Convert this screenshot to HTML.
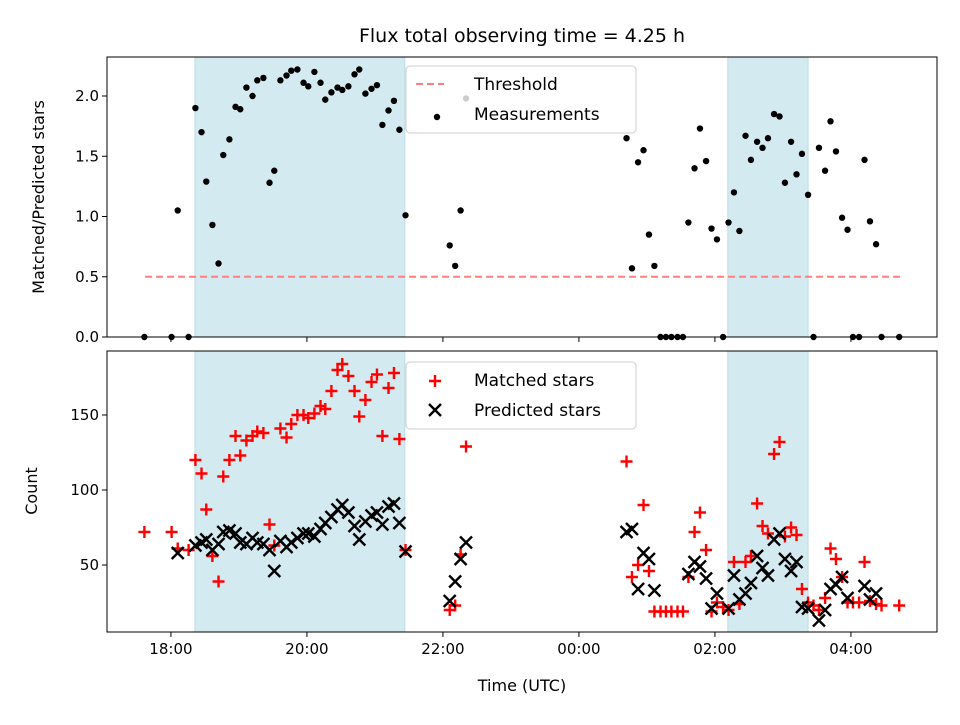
<!DOCTYPE html>
<html><head><meta charset="utf-8">
<style>
html,body{margin:0;padding:0;background:#fff;}
svg text{font-family:"DejaVu Sans","Liberation Sans",sans-serif;fill:#000;}
</style></head>
<body>
<svg id="chart" width="960" height="720" viewBox="0 0 960 720" xmlns="http://www.w3.org/2000/svg">
<text x="522" y="42" font-size="19" text-anchor="middle">Flux total observing time = 4.25 h</text>
<g id="topPanel"></g>
<g id="botPanel"></g>
<text x="522" y="691" font-size="16" text-anchor="middle">Time (UTC)</text>
<text transform="translate(44,197) rotate(-90)" font-size="16" text-anchor="middle">Matched/Predicted stars</text>
<text transform="translate(37,491) rotate(-90)" font-size="16" text-anchor="middle">Count</text>
</svg>
<script>
const times=[-0.39,0.01,0.10,0.26,0.36,0.45,0.52,0.61,0.70,0.77,0.86,0.95,1.02,1.11,1.20,1.27,1.36,1.45,1.52,1.61,1.70,1.77,1.86,1.95,2.02,2.11,2.20,2.27,2.36,2.45,2.52,2.61,2.70,2.77,2.86,2.95,3.03,3.11,3.20,3.28,3.36,3.45,4.10,4.18,4.26,4.34,
6.70,6.78,6.87,6.95,7.03,7.11,7.20,7.28,7.36,7.45,7.53,7.61,7.70,7.78,7.87,7.95,8.03,8.12,8.20,8.28,8.36,8.45,8.53,8.62,8.70,8.78,8.87,8.95,9.03,9.12,9.20,9.28,9.37,9.45,9.53,9.62,9.70,9.78,9.87,9.95,10.03,10.12,10.20,10.28,10.37,10.45,10.71];
const ratio=[0,0,1.05,0,1.90,1.70,1.29,0.93,0.61,1.51,1.64,1.91,1.89,2.07,2.00,2.13,2.15,1.28,1.38,2.13,2.17,2.21,2.22,2.11,2.08,2.20,2.11,1.97,2.03,2.07,2.05,2.08,2.18,2.22,2.02,2.06,2.09,1.76,1.88,1.96,1.72,1.01,0.76,0.59,1.05,1.98,
1.65,0.57,1.45,1.55,0.85,0.59,0,0,0,0,0,0.95,1.40,1.73,1.46,0.90,0.81,0,0.95,1.20,0.88,1.67,1.47,1.62,1.57,1.65,1.85,1.83,1.28,1.62,1.35,1.52,1.18,0,1.57,1.38,1.79,1.54,0.99,0.89,0,0,1.47,0.96,0.77,0,0];
const matched=[72,72,61,60,120,111,87,56,39,109,120,136,123,133,136,139,138,77,63,141,135,144,150,150,148,151,156,154,166,180,184,176,166,149,160,172,177,136,168,178,134,60,20,23,57,129,
119,42,50,90,46,19,19,19,19,19,19,42,72,85,60,19,25,22,20,52,24,52,56,91,76,71,124,132,69,75,70,34,25,23,20,28,61,54,42,25,25,25,52,26,24,23,23];
const predicted=[null,null,58,null,63,65,67,60,64,72,73,71,65,64,68,65,64,60,46,66,62,65,68,71,71,69,74,78,82,87,90,85,76,67,79,83,85,77,89,91,78,59,26,39,54,65,
72,74,34,58,54,33,null,null,null,null,null,44,52,49,41,21,31,null,21,43,27,31,38,56,48,43,67,71,54,46,52,22,21,null,13,20,34,37,42,28,null,null,36,27,31,null,null];
const xTickHours=[0,2,4,6,8,10];
const xTickLabels=["18:00","20:00","22:00","00:00","02:00","04:00"];
const topTicks=[0,0.5,1.0,1.5,2.0];
const botTicks=[50,100,150];
const spans=[[0.353,3.44],[8.19,9.37]];
const threshold=0.5, thrStart=-0.38, thrEnd=10.74;

const NS="http://www.w3.org/2000/svg";
const L=107,R=937;
const X=h=>L+(h+0.94)*68;
const YT=v=>337-v*120.5;
const YB=v=>640-v*1.5;
function mk(tag,attrs,parent){const e=document.createElementNS(NS,tag);for(const k in attrs)e.setAttribute(k,attrs[k]);parent.appendChild(e);return e;}
const topG=document.getElementById('topPanel'),botG=document.getElementById('botPanel');

function axes(g,y0,y1,ticks,Y,fmt,labelsX,pre){
  spans.forEach((s,i)=>{const r=mk('rect',{x:X(s[0]),y:y0,width:X(s[1])-X(s[0]),height:y1-y0,fill:'#d4eaf1',stroke:'#bcdde8','stroke-width':1},g);
    
    });
  ticks.forEach(t=>{const y=Y(t);mk('line',{x1:L-5,x2:L,y1:y,y2:y,stroke:'#000'},g);
    const tx=mk('text',{x:L-8,y:y+5,'font-size':15,'text-anchor':'end'},g);tx.textContent=fmt(t);
    
    });
  xTickHours.forEach((h,i)=>{const x=X(h);mk('line',{x1:x,x2:x,y1:y1,y2:y1+5,stroke:'#000'},g);
    if(labelsX){const tx=mk('text',{x:x,y:y1+22,'font-size':15,'text-anchor':'middle'},g);tx.textContent=xTickLabels[i];
    
    }});
}
function frame(g,y0,y1,pre){const f=mk('rect',{x:L,y:y0,width:R-L,height:y1-y0,fill:'none',stroke:'#000','stroke-width':1},g);
  
  }

// top panel
axes(topG,57,337,topTicks,YT,t=>t.toFixed(1),false,'top');
const thr=mk('line',{x1:X(thrStart),x2:X(thrEnd),y1:YT(threshold),y2:YT(threshold),stroke:'#ff7f7f','stroke-width':2,'stroke-dasharray':'7,4'},topG);


times.forEach((t,i)=>{const c=mk('circle',{cx:X(t),cy:YT(ratio[i]),r:3.2,fill:'#000'},topG);
  
  });
frame(topG,57,337,'top');

// bottom panel
axes(botG,351,632,botTicks,YB,t=>String(t),true,'bottom');
function plus(g,x,y,c){return mk('path',{d:`M${x-6},${y}H${x+6}M${x},${y-6}V${y+6}`,stroke:c,'stroke-width':2.4},g);}
function cross(g,x,y){return mk('path',{d:`M${x-6},${y-6}L${x+6},${y+6}M${x-6},${y+6}L${x+6},${y-6}`,stroke:'#000','stroke-width':2.4},g);}
times.forEach((t,i)=>{const p=plus(botG,X(t),YB(matched[i]),'#ff0000');
  
  });
times.forEach((t,i)=>{if(predicted[i]==null)return;const p=cross(botG,X(t),YB(predicted[i]));
  
  });
frame(botG,351,632,'bottom');

// legends
function legend(g,y,pre){const r=mk('rect',{x:406,y:y,width:230,height:67,rx:4,fill:'#fff','fill-opacity':0.8,stroke:'#ccc'},g);
  
  return r;}
legend(topG,66,'top');
const ll=mk('line',{x1:416,x2:444,y1:84,y2:84,stroke:'#ff7f7f','stroke-width':2,'stroke-dasharray':'7,4'},topG);


let t1=mk('text',{x:474,y:90,'font-size':17},topG);t1.textContent='Threshold';


const ld=mk('circle',{cx:437,cy:117,r:3.2,fill:'#000'},topG);


let t2=mk('text',{x:474,y:120,'font-size':17},topG);t2.textContent='Measurements';



legend(botG,362,'bottom');
const lp=plus(botG,435,381,'#ff0000');


let t3=mk('text',{x:474,y:386,'font-size':17},botG);t3.textContent='Matched stars';


const lx=cross(botG,435,410);


let t4=mk('text',{x:474,y:416,'font-size':17},botG);t4.textContent='Predicted stars';


</script>
</body></html>
